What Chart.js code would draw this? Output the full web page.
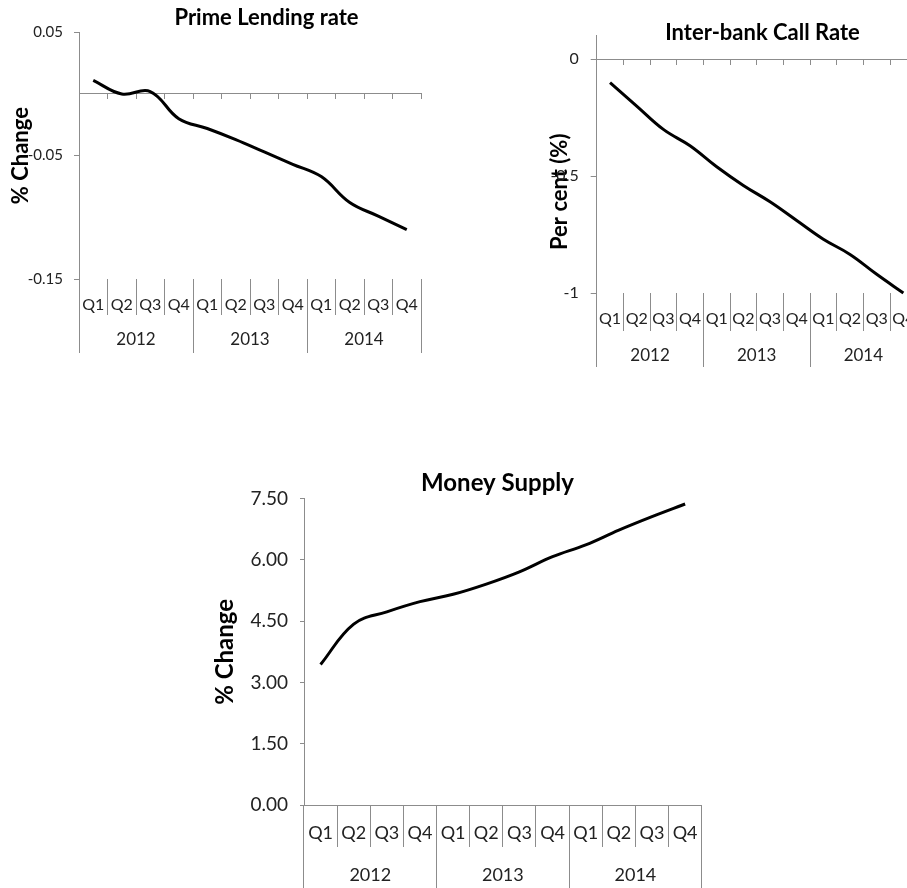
<!DOCTYPE html>
<html>
<head>
<meta charset="utf-8">
<script src="https://cdn.jsdelivr.net/npm/chart.js@4.4.1/dist/chart.umd.min.js"></script>
<style>
  html, body { margin: 0; padding: 0; background: #fff; overflow: hidden; }
  body { width: 907px; height: 888px; position: relative; }
  canvas { position: absolute; }
  #prime { left: 0; top: 0; }
  #call { left: 540px; top: 0; }
  #money { left: 200px; top: 440px; }
</style>
</head>
<body>
<canvas id="prime" width="533" height="353"></canvas>
<canvas id="call" width="445" height="367"></canvas>
<canvas id="money" width="595" height="448"></canvas>
<script>
// Categories
const quarters = ['Q1', 'Q2', 'Q3', 'Q4', 'Q1', 'Q2', 'Q3', 'Q4', 'Q1', 'Q2', 'Q3', 'Q4'];
const years = ['2012', '2013', '2014'];

// Series
const primeLending = [0.011, 0.000, 0.002, -0.020, -0.028, -0.037, -0.047, -0.057, -0.067, -0.088, -0.099, -0.110];
const callRate = [-0.10, -0.20, -0.30, -0.37, -0.46, -0.54, -0.61, -0.69, -0.77, -0.835, -0.92, -1.00];
const moneySupply = [3.44, 4.43, 4.73, 4.98, 5.16, 5.41, 5.71, 6.08, 6.37, 6.73, 7.06, 7.37];

// Value axis ticks
const primeTicks = [0.05, -0.05, -0.15];
const callTicks = [0, -0.5, -1];
const moneyTicks = [0, 1.5, 3, 4.5, 6, 7.5];

const AXIS = '#8c8c8c';
const TEXT = '#222';

Chart.defaults.font.family = 'Lato, Calibri, sans-serif';
Chart.defaults.color = TEXT;

function makeChart(id, o) {
    const scales = {
        x: {
            type: 'category',
            position: 'bottom',
            weight: 1,
            offset: true,
            grid: { offset: true, drawOnChartArea: false, tickLength: o.qRow, color: AXIS },
            border: { display: o.bottomBorder, color: AXIS },
            ticks: { autoSkip: false, maxRotation: 0, minRotation: 0, color: TEXT, font: { size: o.qFont }, padding: o.qPad },
            afterFit: s => { s.height = o.qRow; }
        },
        xYear: {
            type: 'category',
            axis: 'x',
            position: 'bottom',
            weight: 2,
            labels: years,
            offset: true,
            grid: { offset: true, drawOnChartArea: false, tickLength: o.yRow, color: AXIS },
            border: { display: false },
            ticks: { autoSkip: false, maxRotation: 0, minRotation: 0, color: TEXT, font: { size: o.yearFont }, padding: o.yPad },
            afterFit: s => { s.height = o.yRow; }
        },
        y: {
            type: 'linear',
            min: o.min,
            max: o.max,
            afterBuildTicks: s => { s.ticks = o.ticks.map(v => ({ value: v })); },
            ticks: { callback: o.fmt, color: TEXT, font: { size: o.tickFont }, padding: o.tickPad },
            grid: { drawOnChartArea: false, tickLength: o.tickLen, color: AXIS },
            border: { color: AXIS },
            title: {
                display: true,
                text: o.yTitle,
                color: '#000',
                font: { size: o.yTitleFont, weight: 'bold' },
                padding: { top: o.yTitlePad, bottom: 0 }
            },
            afterFit: s => { s.width = o.yWidth; }
        },
        // empty box on the right so the chart title stays centred on the whole canvas
        ySpace: {
            type: 'linear',
            axis: 'y',
            position: 'right',
            grid: { display: false },
            border: { display: false },
            ticks: { display: false },
            afterFit: s => { s.width = o.padRight; }
        }
    };

    // category axis crossing at zero (charts with negative values)
    if (o.zeroLine) {
        scales.xZero = {
            type: 'category',
            axis: 'x',
            position: { y: 0 },
            offset: true,
            grid: { offset: true, drawOnChartArea: false, tickLength: 5, color: AXIS },
            border: { display: true, color: AXIS },
            ticks: { display: false },
            afterFit: s => { s.height = 0; }
        };
    }

    const plugins = [];
    if (o.yTitleShift) {
        // Excel places this axis title lower than the plot centre
        plugins.push({
            id: 'yTitleShift',
            afterLayout(chart) { chart.scales.y.bottom += o.yTitleShift; }
        });
    }

    return new Chart(document.getElementById(id), {
        type: 'line',
        data: {
            labels: quarters,
            datasets: [{
                data: o.data,
                borderColor: '#000',
                borderWidth: 3,
                pointRadius: 0,
                tension: 0.4,
                fill: false,
                xAxisID: 'x',
                yAxisID: 'y'
            }]
        },
        options: {
            responsive: false,
            animation: false,
            layout: { padding: 0 },
            plugins: {
                legend: { display: false },
                tooltip: { enabled: false },
                title: {
                    display: true,
                    text: o.title,
                    color: '#000',
                    font: { size: o.titleFont, weight: 'bold' },
                    padding: { top: o.titlePadTop, bottom: o.titlePadBottom }
                }
            },
            scales: scales
        },
        plugins: plugins
    });
}

makeChart('prime', {
    title: 'Prime Lending rate', titleFont: 22, titlePadTop: 4.8, titlePadBottom: 1.1,
    yTitle: '% Change', yTitleFont: 22, yTitlePad: 7.8, yWidth: 79,
    data: primeLending, ticks: primeTicks, min: -0.15, max: 0.05,
    fmt: v => v.toFixed(2), tickFont: 15, tickLen: 5, tickPad: 11,
    qRow: 36, qFont: 16, qPad: -19.6, yRow: 38, yearFont: 17, yPad: -23.2,
    padRight: 112, zeroLine: true, bottomBorder: false
});

makeChart('call', {
    title: 'Inter-bank Call Rate', titleFont: 22, titlePadTop: 19.8, titlePadBottom: -10.3,
    yTitle: 'Per cent (%)', yTitleFont: 22, yTitlePad: 6.8, yWidth: 56.7, yTitleShift: 54.7,
    data: callRate, ticks: callTicks, min: -1, max: 0.1,
    fmt: v => String(v), tickFont: 16, tickLen: 6, tickPad: 12,
    qRow: 38, qFont: 16, qPad: -21.9, yRow: 36, yearFont: 17, yPad: -21.2,
    padRight: 68.3, zeroLine: true, bottomBorder: false
});

makeChart('money', {
    title: 'Money Supply', titleFont: 24, titlePadTop: 28.6, titlePadBottom: 1.3,
    yTitle: '% Change', yTitleFont: 24, yTitlePad: 10.6, yWidth: 104,
    data: moneySupply, ticks: moneyTicks, min: 0, max: 7.5,
    fmt: v => v.toFixed(2), tickFont: 19, tickLen: 4, tickPad: 12,
    qRow: 42, qFont: 18, qPad: -25.1, yRow: 41, yearFont: 18, yPad: -23.8,
    padRight: 93.3, zeroLine: false, bottomBorder: true
});
</script>
</body>
</html>
